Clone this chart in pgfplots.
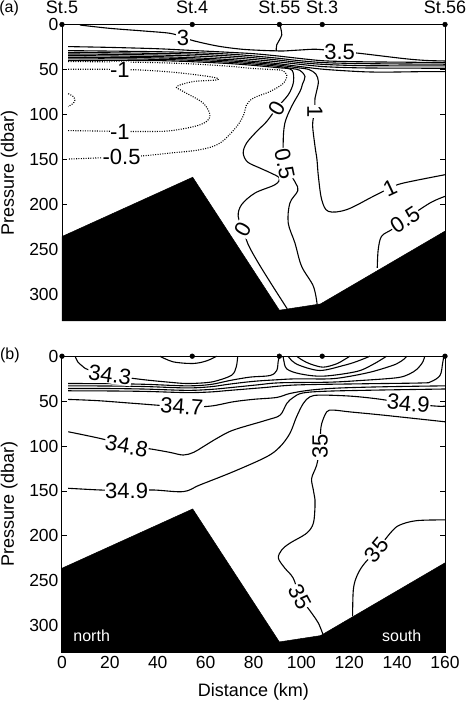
\documentclass[border=0pt]{standalone}
\usepackage{fontspec}
\setmainfont{Liberation Sans}
\usepackage{pgfplots}
\pgfplotsset{compat=1.18}
\begin{document}
\begin{tikzpicture}
\tikzset{
  lab/.style={fill=white, inner sep=0.6pt, font=\fontsize{22}{22}\selectfont},
  st/.style={font=\fontsize{18}{18}\selectfont, anchor=base, yshift=10.5pt},
}
\pgfplotsset{
  sec/.style={
    scale only axis, width=383pt, height=296.5pt,
    xmin=0, xmax=160, ymin=0, ymax=330, y dir=reverse,
    axis line style={line width=1pt},
    every tick/.style={line width=0.9pt, black},
    tick align=inside, major tick length=5pt,
    ytick={0,50,...,300}, ytick pos=both, yticklabel pos=left,
    xtick={0,20,...,160}, xtick pos=bottom,
    clip=false,
    every tick label/.append style={font=\fontsize{17.5}{17.5}\selectfont},
    /pgf/number format/assume math mode=true,
    ylabel={Pressure (dbar)},
    ylabel style={font=\fontsize{18}{18}\selectfont, at={(axis description cs:-0.138,0.5)}, anchor=center},
  },
  cl/.style={black, line width=1.1pt, smooth, tension=0.55, mark=none},
  dl/.style={cl, line width=1.1pt, dash pattern=on 1pt off 1.4pt},
}
% ---------------- panel (a) ----------------
\begin{axis}[sec, at={(62pt,382pt)}, anchor=south west, xticklabels={}]
\addplot[fill=black, draw=black, line width=0.5pt] coordinates {(0,236) (54.6,170) (90.8,318) (108,311) (160,230) (160,330) (0,330)} -- cycle;
% "3" line and St.55 branch
\addplot[cl] coordinates {(7.5,0.6) (20,4.3) (34,7.2) (45.1,9.8) (50.5,14) (54.8,18) (65,24) (75,27.5) (85,29) (89.5,29.3)};
\addplot[cl, tension=0.4] coordinates {(89.5,29.3) (89.7,22.8) (91.8,11.6) (91,0)};
% 3.5 line
\addplot[cl] coordinates {(89.5,29.3) (92.4,29.5) (100,28.3) (106.4,27.6) (116,30) (125,32.3) (143,38) (152,40) (160,40.6)};
% bundle (full width)
\addplot[cl] coordinates {(2.6,24.6) (20,25.5) (40,27) (55,29) (70,31) (80,32.5) (90,35) (100,38) (110,40.5) (125,41.5) (145,42) (160,42.4)};
\addplot[cl] coordinates {(2.6,29.1) (20,29.6) (40,30.3) (55,31.3) (70,33) (80,35) (90,37.5) (100,40.5) (110,42.5) (125,43.5) (145,44) (160,44.2)};
\addplot[cl] coordinates {(2.6,31) (20,31.5) (40,32.2) (55,33) (70,35) (80,37) (90,39.5) (100,42.5) (110,44.5) (125,45.8) (145,46) (160,46.1)};
\addplot[cl] coordinates {(2.6,32.8) (20,33.2) (40,34) (55,35) (70,37) (80,39) (90,41.5) (100,44.5) (110,47) (125,48.3) (145,48.6) (160,48.7)};
\addplot[cl] coordinates {(2.6,34.6) (20,35) (40,35.8) (55,37) (70,39) (80,41) (90,43.5) (100,47) (110,50) (125,52.5) (135,53) (150,52.5) (160,52.4)};
% 1 line
\addplot[cl] coordinates {(2.6,36.5) (20,36.6) (40,37.2) (55,38.5) (70,40.5) (80,42.5) (90,45) (98,48) (103,50) (106,55) (107.1,63.5) (106.3,75) (105.7,82) (105.5,97) (104.7,111.7) (105.7,135.8) (106.5,150) (107.1,169) (108.5,195) (111.3,208) (118.9,206.1) (130,191.3) (137,182) (142.6,176.5) (160,167.2)};
% 0.5 line
\addplot[cl] coordinates {(2.6,38.3) (20,38.2) (40,38.8) (55,40) (70,42) (80,44) (90,46.5) (96,49) (99.4,51) (101.5,58) (100.5,66) (99.4,74.6) (95.9,91.3) (93.1,109.8) (92.4,132) (93,155) (97.5,176) (98.5,185) (95.2,198.7) (94.5,220.9) (97.3,243.1) (100.1,269.1) (105,291.3) (106.6,311.7)};
% 0 line
\addplot[cl] coordinates {(2.6,40.2) (20,40) (40,40.2) (55,41.5) (70,43.5) (80,45.5) (90,48) (95.2,49.5) (96.6,54) (96.6,65.4) (94.5,78.3) (89.7,93) (85.5,108) (81.3,119.1) (77.1,132) (75.7,143) (77.5,153) (82.7,159.8) (87,165) (90.8,170.9) (89,178.3) (80.6,187.6) (75,200.6) (73.6,213.5) (75.7,228) (77.8,245) (82,265.3) (87.6,289.4) (94.1,316.5)};
% right 0.5 line
\addplot[cl] coordinates {(160,191.3) (153.7,198.7) (143.3,217.2) (137.7,228.3) (133.5,235.7) (132.1,250.6) (131.7,270.9)};
% dotted -0.5
\addplot[dl] coordinates {(2.6,41.3) (20,41.6) (40,42.5) (55,44) (70,46.5) (78.5,48.7) (88,50.2) (91.8,51) (93.9,56.1) (92.5,65.4) (86.9,74.6) (79.9,82) (77,90) (76,100) (73,113.5) (66,132) (57.6,139.4) (45.1,143.1) (34.7,146) (24.9,147.5) (13.1,148.7) (2.6,149.8)};
% dotted -1
\addplot[dl] coordinates {(2.6,49.8) (18,49.8) (24.2,50.3) (32.6,50.6) (47.9,53.5) (63.2,58.7) (64.6,61.7) (54.9,63.5) (47.9,69.1) (50.7,74.6) (59,87.6) (61.8,102.4) (57.6,111.7) (45.1,118.3) (32.6,119.1) (24.2,119) (18,118.7) (2.6,118.1)};
\addplot[dl] coordinates {(2.6,77) (4.6,80) (5.4,84) (4.6,88) (2.6,91.3)};
% labels
\node[lab] at (axis cs:50.5,15) {3};
\node[lab] at (axis cs:116,30) {3.5};
\node[lab] at (axis cs:24.2,50.6) {-1};
\node[lab] at (axis cs:24.2,120) {-1};
\node[lab] at (axis cs:24.9,147.5) {-0.5};
\node[lab, rotate=60] at (axis cs:89.7,93) {0};
\node[lab, rotate=-90] at (axis cs:105.7,97) {1};
\node[lab, rotate=-78] at (axis cs:93,155) {0.5};
\node[lab, rotate=60] at (axis cs:75.7,228) {0};
\node[lab, rotate=25] at (axis cs:137,182) {1};
\node[lab, rotate=33] at (axis cs:143.3,217.2) {0.5};
% stations
\addplot[only marks, mark=*, mark size=2.4pt, black] coordinates {(0,0) (54.4,0) (90.8,0) (108.7,0) (160,0)};
\node[st] at (axis cs:0,0) {St.5};
\node[st] at (axis cs:54.4,0) {St.4};
\node[st] at (axis cs:90.8,0) {St.55};
\node[st] at (axis cs:108.7,0) {St.3};
\node[st] at (axis cs:160,0) {St.56};
\node[font=\fontsize{16}{16}\selectfont] at (axis description cs:-0.138,1.054) {(a)};
\end{axis}
% ---------------- panel (b) ----------------
\begin{axis}[sec, at={(62pt,50.3pt)}, anchor=south west,
  xlabel={Distance (km)},
  xlabel style={font=\fontsize{18}{18}\selectfont, at={(axis description cs:0.5,-0.132)}, anchor=center}]
\addplot[fill=black, draw=black, line width=0.5pt] coordinates {(0,236) (54.6,170) (90.8,318) (108,311) (160,230) (160,330) (0,330)} -- cycle;
% 34.3
\addplot[cl] coordinates {(5.5,0) (6.5,6) (8.5,11) (11,15) (20,21) (33.3,25.9) (45,29) (52.1,30.4) (60,29.5) (64.6,27.4) (70.9,21.1) (72.8,11.9) (73.4,0)};
% St.4 arc
\addplot[cl] coordinates {(40.9,0) (46.5,6.3) (54.8,8.1) (60.4,5.2) (64.6,0)};
% St.55 line
\addplot[cl] coordinates {(2.6,30.4) (20,30.6) (35,31.3) (52,33) (62,31.5) (70.2,27) (78.5,23.3) (86.9,21.5) (89.7,15.9) (90.3,6) (90.8,0)};
\addplot[cl] coordinates {(2.6,33) (20,33.2) (35,33.8) (52,35.3) (62,34) (70.2,31) (80,28) (90,26.2) (98,25.2) (111.9,25.2) (120,22.5) (128.7,17.8) (135,13) (139.8,8.5) (143,3) (144,0)};
\addplot[cl] coordinates {(2.6,35.9) (20,36) (35,36.6) (52,38) (62,37) (70.2,35) (81.3,32) (91.1,29.6) (111.9,28.9) (125,27) (139.8,24) (145,20) (148.5,14) (150.8,6) (151.5,0)};
\addplot[cl] coordinates {(2.6,38.5) (20,38.7) (35,39.2) (52,40.5) (62,39.8) (70.2,38) (84.1,35) (98,32) (125.9,30.7) (150,29.8) (154,28.5) (157.9,21.5) (159,8) (159.5,0)};
% St.3 arcs
\addplot[cl] coordinates {(98,0) (100.5,4.5) (103.6,8.5) (109.1,12.2) (114.7,8.5) (117.5,4.5) (120.3,0)};
\addplot[cl] coordinates {(94.5,0) (96,5) (99.4,10.4) (107.8,15.9) (117.5,10.4) (123,6) (128.7,0)};
\addplot[cl] coordinates {(92.4,0) (92.6,4) (93.9,14.1) (99.4,19.6) (109.1,22.2) (123.1,17) (130,9) (135.6,0)};
% 34.7
\addplot[cl] coordinates {(2.6,48.1) (15,49.5) (30,52.5) (50,56.3) (61.8,55.6) (71.6,50.7) (80,48) (89.7,45.9) (95.2,41.5) (103.6,37.8) (115,35.5) (135,34) (160,33)};
% 34.8
\addplot[cl] coordinates {(2.6,84.1) (15.9,91.5) (27,99) (38.1,103.7) (45,107) (50.7,110) (55,107) (59,100.7) (65,91) (71.6,82.2) (85.5,71.1) (91.1,65.6) (93.9,52.6) (96.6,45.9) (100.5,41) (110,39) (130,37.8) (160,36.5)};
% 34.9
\addplot[cl] coordinates {(2.6,147) (15.9,148.9) (27,149.6) (38.1,148.9) (50.7,150.7) (57.6,143.3) (71.6,128.5) (85.5,111.9) (91.1,100.7) (95.2,85.9) (98,67.4) (100.8,52.6) (103.6,45.2) (107.8,43.3) (120.3,44.4) (131.5,47.4) (144.7,52.6) (156.5,55.6) (160,55.6)};
% 35
\addplot[cl] coordinates {(160,73) (134.2,65.6) (120.3,62) (113.3,60) (110.6,61.9) (108.5,74.8) (108,85) (107.8,100.7) (106.4,121.1) (104.3,135.9) (105,148.9) (105.7,160) (105.7,167.4) (105,185.9) (102.2,197) (95.2,208.1) (91.8,215.6) (90.4,224.8) (93.1,235.9) (96.6,247) (99.4,267.4) (104.3,285.9) (107.1,297) (109,309.5)};
\addplot[cl] coordinates {(160,182.2) (148.2,183) (141.2,187.8) (137.7,195.2) (131.5,215.6) (125.9,232.2) (123.1,245.2) (121.7,260) (121.4,289.6)};
% labels
\node[lab, rotate=-8] at (axis cs:20,21) {34.3};
\node[lab, rotate=-4] at (axis cs:50,56.3) {34.7};
\node[lab, rotate=-10] at (axis cs:27,100) {34.8};
\node[lab] at (axis cs:27,149.6) {34.9};
\node[lab, rotate=-6] at (axis cs:144.7,52.6) {34.9};
\node[lab, rotate=90] at (axis cs:107.8,100.7) {35};
\node[lab, rotate=-62] at (axis cs:99.4,267.4) {35};
\node[lab, rotate=50] at (axis cs:131.5,215.6) {35};
\node[white, font=\fontsize{16}{16}\selectfont] at (axis cs:12.4,311) {north};
\node[white, font=\fontsize{16}{16}\selectfont] at (axis cs:141.9,311) {south};
\addplot[only marks, mark=*, mark size=2.4pt, black] coordinates {(0,0) (54.4,0) (90.8,0) (108.7,0) (160,0)};
\node[font=\fontsize{16}{16}\selectfont] at (axis description cs:-0.136,1.003) {(b)};
\end{axis}
\pgfresetboundingbox
\path[use as bounding box] (0pt,0pt) rectangle (466pt,703pt);
\end{tikzpicture}
\end{document}
